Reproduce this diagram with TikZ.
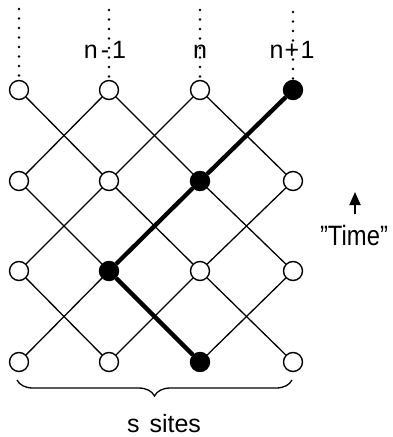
\documentclass[tikz,border=0pt]{standalone}
\usepackage{fontspec}
\setmainfont{Liberation Sans}
\usetikzlibrary{arrows.meta,decorations.pathreplacing}
\begin{document}
\begin{tikzpicture}[x=1pt,y=-1pt,
  site/.style={circle,draw,line width=1.4pt,fill=white,minimum size=19pt,inner sep=0pt},
  occ/.style={site,fill=black},
  bond/.style={line width=1.3pt},
  heavy/.style={line width=4.3pt},
  txt/.style={font=\fontsize{25}{30}\selectfont,inner sep=0pt,anchor=base},
  dots/.style={line width=2.6pt,line cap=round,dash pattern=on 0pt off 9.5pt}]
\useasboundingbox (0,0) rectangle (392,437);
% sites
\node[site] (n11) at (19,90) {};
\node[site] (n12) at (109,90) {};
\node[site] (n13) at (200,90) {};
\node[occ]  (n14) at (293,90) {};
\node[site] (n21) at (19,181) {};
\node[site] (n22) at (109,181) {};
\node[occ]  (n23) at (200,181) {};
\node[site] (n24) at (293,181) {};
\node[site] (n31) at (19,271) {};
\node[occ]  (n32) at (109,271) {};
\node[site] (n33) at (200,271) {};
\node[site] (n34) at (293,271) {};
\node[site] (n41) at (19,362) {};
\node[site] (n42) at (109,362) {};
\node[occ]  (n43) at (200,362) {};
\node[site] (n44) at (293,362) {};
% bonds
\foreach \r [evaluate=\r as \s using int(\r+1)] in {1,2,3} {
  \foreach \a/\b in {1/2,2/1,2/3,3/2,3/4,4/3}
    \draw[bond] (n\r\a) -- (n\s\b);
}
\draw[heavy] (n14) -- (n23) -- (n32);
\draw[heavy] (n32) -- (n43);
% dotted world lines above
\coordinate (t1) at (19,9);
\coordinate (t2) at (109,10);
\coordinate (t3) at (200,10);
\coordinate (t4) at (293,12);
\foreach \c in {1,2,3,4} \draw[dots] (t\c) -- (n1\c.north);
\node[txt] (l2) at (105,58) {n\hspace{0.12em}-\hspace{0.12em}1};
\node[txt] (l3) at (200,58) {n};
\node[txt] (l4) at (292,58) {n\hspace{0.05em}+\hspace{0.05em}1};
% brace
\coordinate (bl) at (17,380);
\coordinate (br) at (292,380);
\draw[line width=1.3pt,decorate,decoration={brace,mirror,amplitude=16pt}] (bl) -- (br);
\node[txt] (ss) at (164,432) {s\hspace{0.4em}sites};
% time arrow
\coordinate (ta) at (355,214);
\coordinate (tb) at (355,192);
\draw[line width=1.8pt,-{Triangle[length=13pt,width=11pt]}] (ta) -- (tb);
\node[txt,font=\fontsize{28}{32}\selectfont] (time) at (354,245) {\scalebox{0.85}[1]{\symbol{34}Time\symbol{34}}};
\end{tikzpicture}
\end{document}
